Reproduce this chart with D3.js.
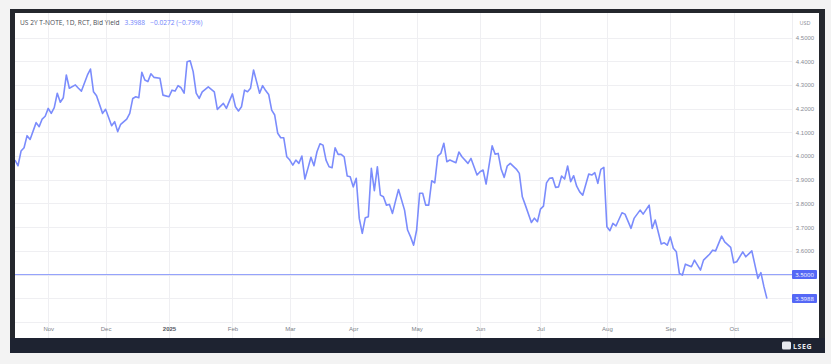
<!DOCTYPE html>
<html>
<head>
<meta charset="utf-8">
<script src="https://cdn.jsdelivr.net/npm/d3@7"></script>
<style>
  body { margin: 0; background: #f3f3f3; }
  svg { display: block; font-family: "Open Sans", "DejaVu Sans", sans-serif; }
</style>
</head>
<body>
<svg id="chart" width="831" height="364"></svg>
<script>
var days = [0,1,2,3,4,5,7,8,9,10,11,12,13,14,15,16,17,18,20,21,22,24,25,26,27,29,30,32,33,34,35,37,38,39,40,41,42,43,44,45,46,48,49,51,52,53,54,55,56,57,58,59,60,61,62,64,66,67,69,70,72,73,74,75,76,77,78,79,80,81,82,83,84,85,86,87,88,89,90,91,92,93,94,95,96,97,98,99,100,101,102,103,104,105,106,107,108,109,110,111,112,113,114,115,116,117,118,119,120,121,122,123,124,125,126,127,129,130,131,132,133,134,135,136,137,138,139,140,141,142,143,144,146,147,148,150,151,153,154,155,156,158,159,160,161,162,163,164,166,167,168,169,171,172,173,174,175,176,177,178,179,180,181,182,183,184,185,186,187,188,190,191,192,193,194,195,196,197,198,199,201,202,204,205,207,208,210,211,212,214,215,216,217,218,219,220,221,222,224,225,227,228,230,231,232,234,235,237,238,239,241,242,244,246,247,248,249];
var yields = [3.983,3.959,4.021,4.035,4.086,4.070,4.141,4.124,4.156,4.168,4.201,4.180,4.204,4.265,4.227,4.246,4.342,4.286,4.300,4.286,4.274,4.342,4.367,4.271,4.254,4.180,4.197,4.128,4.145,4.103,4.134,4.156,4.180,4.243,4.250,4.246,4.353,4.321,4.314,4.347,4.332,4.328,4.257,4.250,4.278,4.274,4.297,4.288,4.265,4.398,4.402,4.356,4.265,4.243,4.271,4.292,4.271,4.197,4.222,4.201,4.262,4.208,4.190,4.208,4.278,4.271,4.286,4.363,4.314,4.265,4.297,4.276,4.260,4.194,4.173,4.096,4.077,4.077,3.997,3.983,3.962,3.983,3.969,4.000,3.903,3.948,3.995,3.959,4.018,4.052,4.046,3.983,3.955,3.951,4.035,4.007,4.007,3.997,3.916,3.913,3.870,3.906,3.737,3.674,3.740,3.744,3.948,3.854,3.955,3.835,3.828,3.793,3.796,3.758,3.810,3.859,3.772,3.688,3.659,3.624,3.688,3.843,3.843,3.793,3.793,3.896,3.887,4.000,4.011,4.054,3.976,3.983,3.972,4.017,3.997,3.969,3.990,3.920,3.934,3.941,3.882,4.043,4.008,4.011,3.944,3.910,3.958,3.969,3.945,3.927,3.828,3.793,3.720,3.738,3.723,3.776,3.789,3.887,3.906,3.908,3.868,3.870,3.916,3.903,3.958,3.892,3.917,3.873,3.849,3.835,3.924,3.920,3.930,3.885,3.944,3.952,3.702,3.685,3.716,3.705,3.761,3.755,3.695,3.737,3.772,3.755,3.793,3.695,3.730,3.629,3.634,3.624,3.659,3.611,3.596,3.505,3.498,3.544,3.533,3.561,3.519,3.561,3.586,3.603,3.600,3.662,3.638,3.615,3.550,3.554,3.596,3.575,3.600,3.484,3.508,3.449,3.3988];

var monthDays = [11, 30, 51, 72, 91, 112, 133, 154, 174, 196, 217, 238];
var monthLabels = ["Nov", "Dec", "2025", "Feb", "Mar", "Apr", "May", "Jun", "Jul", "Aug", "Sep", "Oct"];
var yTicks = [3.4, 3.5, 3.6, 3.7, 3.8, 3.9, 4.0, 4.1, 4.2, 4.3, 4.4, 4.5];

var title = "US 2Y T-NOTE, 1D, RCT, Bid Yield";
var lastValue = 3.3988;
var change = -0.0272;
var changePct = -0.79;
var refLevel = 3.5;

var lineColor = "#7b8cfc";
var boxColor = "#5568f6";

var svg = d3.select("#chart");

// frame
svg.append("rect").attr("x", 10).attr("y", 9).attr("width", 815).attr("height", 344).attr("fill", "#24272d");
svg.append("rect").attr("x", 10).attr("y", 338).attr("width", 815).attr("height", 15).attr("fill", "#1e2331");
svg.append("rect").attr("x", 15).attr("y", 13).attr("width", 804).attr("height", 325).attr("fill", "#ffffff");

var plotLeft = 15, plotRight = 792, plotTop = 13, plotBottom = 322;

var x = d3.scaleLinear().domain([0, 257.3]).range([plotLeft, plotRight]);
var y = d3.scaleLinear().domain([3.3, 4.6]).range([plotBottom, 13.8]);

// grid
svg.append("g").selectAll("line").data(yTicks.concat([3.3]))
  .enter().append("line")
  .attr("x1", plotLeft).attr("x2", plotRight)
  .attr("y1", function(d) { return Math.round(y(d)) + 0.5; })
  .attr("y2", function(d) { return Math.round(y(d)) + 0.5; })
  .attr("stroke", "#efeff2").attr("stroke-width", 1);
svg.append("g").selectAll("line").data(monthDays)
  .enter().append("line")
  .attr("x1", function(d) { return Math.round(x(d)) + 0.5; })
  .attr("x2", function(d) { return Math.round(x(d)) + 0.5; })
  .attr("y1", plotTop).attr("y2", 338)
  .attr("stroke", "#efeff2").attr("stroke-width", 1);

// axis separator
svg.append("line").attr("x1", plotRight + 0.5).attr("x2", plotRight + 0.5).attr("y1", plotTop).attr("y2", 338)
  .attr("stroke", "#eeeef1");

// reference line at 3.5
svg.append("line")
  .attr("x1", plotLeft).attr("x2", plotRight)
  .attr("y1", y(refLevel)).attr("y2", y(refLevel))
  .attr("stroke", "#8d9cfb").attr("stroke-width", 1);

// yield line
svg.append("defs").append("clipPath").attr("id", "clip")
  .append("rect").attr("x", plotLeft).attr("y", plotTop)
  .attr("width", plotRight - plotLeft).attr("height", plotBottom - plotTop);

var pts = days.map(function(d, i) { return [d, yields[i]]; });
var line = d3.line()
  .x(function(d) { return x(d[0]); })
  .y(function(d) { return y(d[1]); });

svg.append("path")
  .datum(pts)
  .attr("clip-path", "url(#clip)")
  .attr("d", line)
  .attr("fill", "none")
  .attr("stroke", lineColor)
  .attr("stroke-width", 1.6)
  .attr("stroke-linejoin", "round");

// y axis labels
var yAxis = d3.axisRight(y)
  .tickValues(yTicks.filter(function(d) { return d >= 3.55; }))
  .tickSize(0)
  .tickPadding(0)
  .tickFormat(d3.format(".4f"));
var ya = svg.append("g").attr("transform", "translate(805,0)").call(yAxis);
ya.select(".domain").remove();
ya.selectAll("text")
  .attr("text-anchor", "middle")
  .attr("font-size", 6)
  .attr("fill", "#8a8d96");

svg.append("text").attr("x", 805).attr("y", 25).attr("text-anchor", "middle")
  .attr("font-size", 5.5).attr("fill", "#8a8d96").text("USD");

// price boxes
function priceBox(v, col) {
  var yy = y(v);
  svg.append("rect").attr("x", 792).attr("y", yy - 4.5).attr("width", 25).attr("height", 9)
    .attr("rx", 1).attr("fill", col);
  svg.append("text").attr("x", 804.5).attr("y", yy + 2).attr("text-anchor", "middle")
    .attr("font-size", 6).attr("fill", "#ffffff").text(d3.format(".4f")(v));
}
priceBox(refLevel, boxColor);
priceBox(lastValue, boxColor);

// x axis labels
var xAxis = d3.axisBottom(x)
  .tickValues(monthDays)
  .tickSize(0)
  .tickPadding(0)
  .tickFormat(function(d, i) { return monthLabels[i]; });
var xa = svg.append("g").attr("transform", "translate(0,327)").call(xAxis);
xa.select(".domain").remove();
xa.selectAll("text")
  .attr("font-size", 6)
  .attr("font-weight", function(d, i) { return monthLabels[i] == "2025" ? "bold" : "normal"; })
  .attr("fill", function(d, i) { return monthLabels[i] == "2025" ? "#555861" : "#7c7f88"; });

// header
var head = svg.append("text").attr("x", 20).attr("y", 25).attr("font-size", 6.6);
head.append("tspan").attr("fill", "#4a4d55").text(title);
head.append("tspan").attr("fill", "#7083fb").attr("dx", 5).text(d3.format(".4f")(lastValue));
head.append("tspan").attr("fill", "#7083fb").attr("dx", 5)
  .text(d3.format(".4f")(change) + " (" + d3.format(".2f")(changePct) + "%)");

// logo
var logo = svg.append("g").attr("transform", "translate(782,340)");
logo.append("rect").attr("x", 0).attr("y", 1.5).attr("width", 9).attr("height", 8).attr("rx", 1.5).attr("fill", "#e6e8ee");
logo.append("text").attr("x", 11).attr("y", 8.6).attr("font-size", 7).attr("font-weight", "bold")
  .attr("fill", "#e6e8ee").attr("letter-spacing", 0.6).text("LSEG");
</script>
</body>
</html>
